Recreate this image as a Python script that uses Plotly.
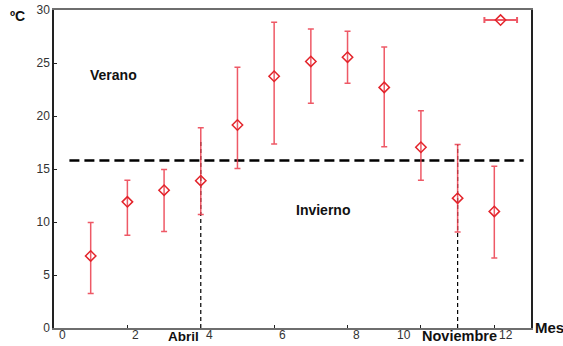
import plotly.graph_objects as go

months = [1, 2, 3, 4, 5, 6, 7, 8, 9, 10, 11, 12]
temp_mean = [6.8, 11.9, 13.0, 13.9, 19.15, 23.75, 25.15, 25.55, 22.7, 17.05, 12.25, 11.0]
temp_high = [9.95, 13.95, 14.95, 18.9, 24.6, 28.85, 28.2, 28.0, 26.5, 20.5, 17.3, 15.25]
temp_low = [3.25, 8.75, 9.1, 10.7, 15.05, 17.35, 21.2, 23.1, 17.1, 13.95, 9.05, 6.6]

legend_x = [12.17]
legend_y = [29.05]
legend_err_minus = [0.44]
legend_err_plus = [0.45]

threshold = 15.8
threshold_span = [0.42, 12.8]
marked_months = [4, 11]
marked_tops = [17.6, 17.3]
marked_names = ["Abril", "Noviembre"]

x_ticks = [0, 2, 4, 6, 8, 10, 12]
x_tick_labels = ["0", "2", "4", "6", "8", "10", "12"]
y_ticks = [0, 5, 10, 15, 20, 25, 30]

err_plus = [h - m for h, m in zip(temp_high, temp_mean)]
err_minus = [m - l for m, l in zip(temp_mean, temp_low)]

red = "#e3242b"
err_col = "rgba(235,60,75,0.85)"

fig = go.Figure()

fig.add_trace(go.Scatter(
    x=threshold_span, y=[threshold, threshold], mode="lines",
    line=dict(color="black", width=2.5, dash="10px,5px"),
    hoverinfo="skip", showlegend=False))

for mx, top in zip(marked_months, marked_tops):
    fig.add_trace(go.Scatter(
        x=[mx, mx], y=[0, top], mode="lines",
        line=dict(color="black", width=1.2, dash="4px,3px"),
        hoverinfo="skip", showlegend=False))

fig.add_trace(go.Scatter(
    x=months, y=temp_mean, mode="markers",
    marker=dict(symbol="diamond-open", size=8, color=red, line=dict(width=1.5, color=red)),
    error_y=dict(type="data", symmetric=False, array=err_plus, arrayminus=err_minus,
                 color=err_col, thickness=1.5, width=3),
    showlegend=False))

fig.add_trace(go.Scatter(
    x=legend_x, y=legend_y, mode="markers",
    marker=dict(symbol="diamond-open", size=8, color=red, line=dict(width=1.5, color=red)),
    error_x=dict(type="data", symmetric=False, array=legend_err_plus, arrayminus=legend_err_minus,
                 color=err_col, thickness=2, width=3),
    showlegend=False))

font_family = "Liberation Sans, Arial, sans-serif"

W, H = 563, 346
ml, mr, mt, mb = 54, 32, 10, 18
pw, ph = W - ml - mr, H - mt - mb


def px_to_paper(px, py):
    return (px - ml) / pw, 1 - (py - mt) / ph


def label(text, x, y, xref, yref, size, xanchor="center", xshift=0, color="#111"):
    return dict(text=text, x=x, y=y, xref=xref, yref=yref, xanchor=xanchor, yanchor="middle",
                xshift=xshift, showarrow=False,
                font=dict(size=size, color=color, family=font_family))


annotations = [
    label("<b>Verano</b>", 1.61, 23.85, "x", "y", 14),
    label("<b>Invierno</b>", 7.33, 11.1, "x", "y", 14),
]
cx, cy = px_to_paper(17, 16)
annotations.append(label("<b>ºC</b>", cx, cy, "paper", "paper", 14))
mx_, my_ = px_to_paper(549, 327)
annotations.append(label("<b>Mes</b>", mx_, my_, "paper", "paper", 15))
_, ly = px_to_paper(0, 336)
annotations.append(label("<b>" + marked_names[0] + "</b>", marked_months[0], ly, "x", "paper", 13.5,
                         xanchor="right"))
annotations.append(label("<b>" + marked_names[1] + "</b>", marked_months[1] + 0.05, ly, "x", "paper", 14.5))

# x tick labels sit just right of each tick; "10" is nudged left to clear "Noviembre"
_, tly = px_to_paper(0, 335)
for tv, tl in zip(x_ticks, x_tick_labels):
    if tv == 10:
        annotations.append(label(tl, tv, tly, "x", "paper", 12, xshift=-17, color="#333"))
    else:
        annotations.append(label(tl, tv, tly, "x", "paper", 12, xanchor="left", xshift=3, color="#333"))

fig.update_layout(
    width=W, height=H,
    margin=dict(l=ml, r=mr, t=mt, b=mb, autoexpand=False),
    paper_bgcolor="white", plot_bgcolor="white",
    font=dict(family=font_family, size=12, color="#333"),
    annotations=annotations,
    xaxis=dict(range=[0, 13], tickvals=x_ticks, showticklabels=False,
               ticks="inside", ticklen=3, tickcolor="#222",
               showgrid=False, zeroline=False, showline=True, linecolor="#6e6e6e", linewidth=2,
               mirror=True),
    yaxis=dict(range=[0, 30], tickvals=y_ticks, ticks="inside", ticklen=3, tickcolor="#222",
               showgrid=False, zeroline=False, showline=True, linecolor="#222", linewidth=1.5,
               mirror=True, tickfont=dict(size=12, color="#333")),
    # companion axes that only carry the inside ticks on the top and right edges
    xaxis2=dict(overlaying="x", side="top", matches="x", range=[0, 13], tickvals=x_ticks,
                showticklabels=False, ticks="inside", ticklen=3, tickcolor="#222",
                showgrid=False, zeroline=False, showline=False),
    yaxis2=dict(overlaying="y", side="right", matches="y", range=[0, 30], tickvals=y_ticks,
                showticklabels=False, ticks="inside", ticklen=3, tickcolor="#555",
                showgrid=False, zeroline=False, showline=False),
)

fig.write_html("out.html")
